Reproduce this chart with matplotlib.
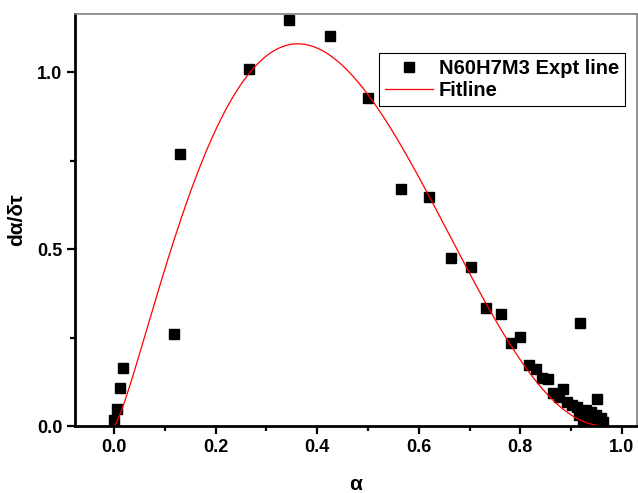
import numpy as np
from matplotlib import pyplot as plt
from matplotlib.ticker import MultipleLocator

#------------------------------------------#
# Data
#------------------------------------------#

alpha = [0.000, 0.005, 0.012, 0.018, 0.117, 0.130, 0.265, 0.345, 0.426,
         0.500, 0.566, 0.620, 0.664, 0.702, 0.733, 0.762, 0.782, 0.800,
         0.817, 0.831, 0.843, 0.855, 0.864, 0.876, 0.884, 0.893, 0.902,
         0.911, 0.918, 0.916, 0.923, 0.929, 0.932, 0.936, 0.940, 0.945,
         0.949, 0.951, 0.955, 0.959, 0.962]
rate = [0.017, 0.048, 0.108, 0.165, 0.259, 0.769, 1.008, 1.147, 1.102,
        0.927, 0.669, 0.648, 0.474, 0.450, 0.332, 0.317, 0.235, 0.251,
        0.172, 0.161, 0.137, 0.134, 0.092, 0.082, 0.104, 0.069, 0.058,
        0.053, 0.291, 0.030, 0.018, 0.045, 0.025, 0.012, 0.040, 0.020,
        0.031, 0.076, 0.015, 0.022, 0.012]

# Fit model: A * a^m * (c - a)^n
fit_A = 12.0
fit_m = 1.3
fit_n = 2.185
fit_c = 0.97

#------------------------------------------#
# Plot
#------------------------------------------#

plt.rcParams['font.family'] = 'Liberation Sans'
plt.rcParams['font.weight'] = 'bold'

fig = plt.figure(figsize=(6.38, 4.93), dpi=100)
ax = fig.add_axes([0.1176, 0.1359, 0.8809, 0.8357])

ax.plot(alpha, rate, 's', color='black', ms=6.5, label='N60H7M3 Expt line')

a_fit = np.linspace(0, max(alpha), 300)
r_fit = fit_A * a_fit**fit_m * (fit_c - a_fit)**fit_n
ax.plot(a_fit, r_fit, '-', color='red', lw=0.9, label='Fitline')

ax.set_xlim(-0.077, 1.03)
ax.set_ylim(0, 1.164)
ax.xaxis.set_minor_locator(MultipleLocator(0.1))
ax.yaxis.set_minor_locator(MultipleLocator(0.25))

ax.tick_params(which='major', direction='out', length=6, width=1.6, labelsize=13, pad=3)
ax.tick_params(which='minor', direction='out', length=3.5, width=1.6)
ax.set_xticks([0, 0.2, 0.4, 0.6, 0.8, 1.0])
ax.set_xticklabels(['0.0', '0.2', '0.4', '0.6', '0.8', '1.0'])
ax.set_yticks([0, 0.5, 1.0])
ax.set_yticklabels(['0.0', '0.5', '1.0'])

for side in ['left', 'bottom']:
    ax.spines[side].set_linewidth(2)
for side in ['top', 'right']:
    ax.spines[side].set_linewidth(1.2)
    ax.spines[side].set_color('gray')

ax.set_xlabel('α', fontsize=15, fontweight='bold', labelpad=14)
ax.set_ylabel('dα/δτ', fontsize=15, fontweight='bold', labelpad=8)

leg = ax.legend(loc='upper right', bbox_to_anchor=(0.979, 0.905), fontsize=14.5,
                frameon=True, fancybox=False, edgecolor='black', framealpha=1,
                handlelength=2.4, borderpad=0.3, labelspacing=0.15,
                handletextpad=0.3, borderaxespad=0)
leg.get_frame().set_linewidth(0.8)
for txt in leg.get_texts():
    txt.set_fontweight('bold')

fig.savefig('out.png', dpi=100)
